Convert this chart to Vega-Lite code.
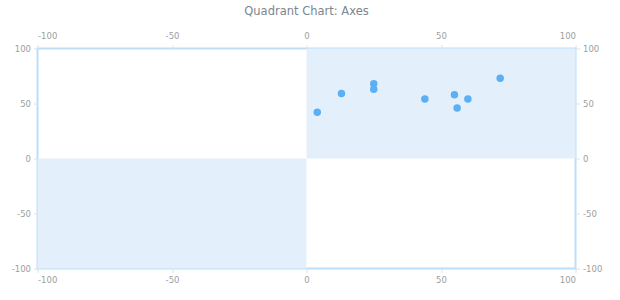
{
  "$schema": "https://vega.github.io/schema/vega-lite/v6.json",
  "autosize": "none",
  "width": 538,
  "height": 220,
  "padding": {"left": 37.5, "top": 48.5, "right": 44.5, "bottom": 31.5},
  "background": "#ffffff",
  "config": {
    "font": "DejaVu Sans",
    "view": {"stroke": "#bbdefb", "strokeWidth": 2},
    "axis": {
      "labelFont": "DejaVu Sans",
      "labelFontSize": 8.5,
      "labelColor": "#9e9e9e",
      "tickColor": "#e0e0e0",
      "tickSize": 4,
      "domain": false,
      "grid": false,
      "title": null,
      "labelPadding": 3,
      "labelExpr": "toString(datum.value)"
    }
  },
  "title": {
    "text": "Quadrant Chart: Axes",
    "fontSize": 11.5,
    "fontWeight": "normal",
    "color": "#7c868e",
    "font": "DejaVu Sans",
    "anchor": "middle",
    "offset": 14
  },
  "datasets": {
    "quadrants": [
      {"x1": 0, "x2": 100, "y1": 0, "y2": 100},
      {"x1": -100, "x2": 0, "y1": -100, "y2": 0}
    ],
    "points": [
      {"x": 4, "y": 42},
      {"x": 13, "y": 59},
      {"x": 25, "y": 68},
      {"x": 25, "y": 63},
      {"x": 44, "y": 54},
      {"x": 55, "y": 58},
      {"x": 56, "y": 46},
      {"x": 60, "y": 54},
      {"x": 72, "y": 73}
    ]
  },
  "resolve": {"axis": {"x": "independent", "y": "independent"}},
  "layer": [
    {
      "data": {"name": "quadrants"},
      "mark": {"type": "rect", "color": "#e3f0fc", "stroke": null},
      "encoding": {
        "x": {"field": "x1", "type": "quantitative", "scale": {"domain": [-100, 100], "nice": false, "zero": false}, "axis": {"orient": "bottom", "values": [-100, -50, 0, 50, 100]}},
        "x2": {"field": "x2"},
        "y": {"field": "y1", "type": "quantitative", "scale": {"domain": [-100, 100], "nice": false, "zero": false}, "axis": {"orient": "left", "values": [-100, -50, 0, 50, 100]}},
        "y2": {"field": "y2"}
      }
    },
    {
      "data": {"name": "points"},
      "mark": {"type": "point", "filled": true, "opacity": 1, "color": "#5aaff5", "size": 56},
      "encoding": {
        "x": {"field": "x", "type": "quantitative", "scale": {"domain": [-100, 100], "nice": false, "zero": false}, "axis": {"orient": "top", "values": [-100, -50, 0, 50, 100], "labelPadding": 4}},
        "y": {"field": "y", "type": "quantitative", "scale": {"domain": [-100, 100], "nice": false, "zero": false}, "axis": {"orient": "right", "values": [-100, -50, 0, 50, 100]}}
      }
    }
  ]
}
